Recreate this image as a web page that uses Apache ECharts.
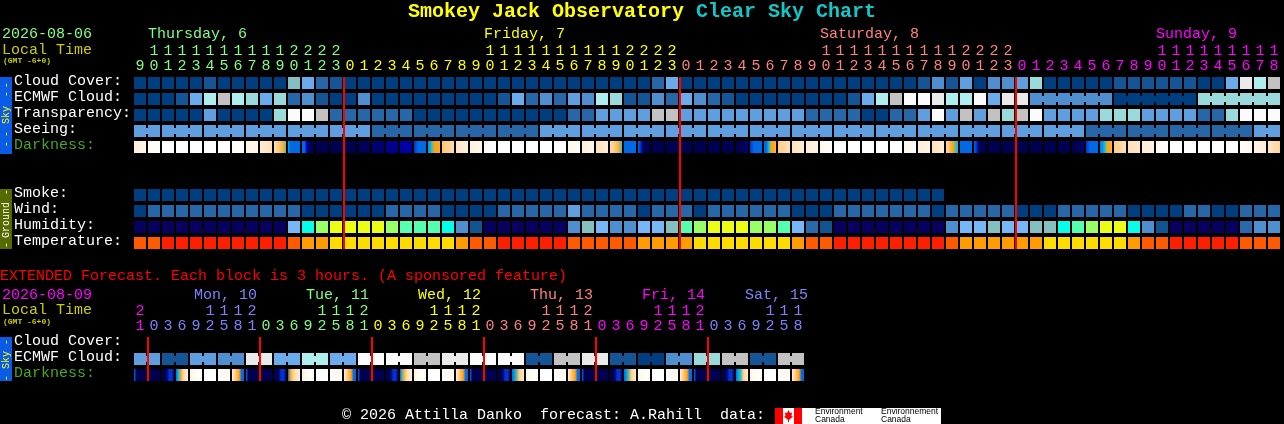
<!DOCTYPE html>
<html><head><meta charset="utf-8">
<script src="https://cdn.jsdelivr.net/npm/echarts@6/dist/echarts.min.js"></script>
<style>html,body{margin:0;padding:0;background:#000;overflow:hidden}#c{width:1284px;height:424px}</style>
</head><body><div id="c"></div>
<script>
// ---------- data ----------
const hours = [9,10,11,12,13,14,15,16,17,18,19,20,21,22,23,
 0,1,2,3,4,5,6,7,8,9,10,11,12,13,14,15,16,17,18,19,20,21,22,23,
 0,1,2,3,4,5,6,7,8,9,10,11,12,13,14,15,16,17,18,19,20,21,22,23,
 0,1,2,3,4,5,6,7,8,9,10,11,12,13,14,15,16,17,18];
const rowNames = ['Cloud Cover:','ECMWF Cloud:','Transparency:','Seeing:','Darkness:',' ','  ','Smoke:','Wind:','Humidity:','Temperature:'];
const cloud = [0,0,0,0,0,1,0,0,0,0, 0,11,5,2,1,0,0,0,0,0, 0,0,0,0,0,0,0,0,0,0, 0,0,0,0,0,0,0,2,5,0, 0,0,0,0,0,0,0,0,0,0, 0,0,0,0,0,0,1,3,1,4, 0,3,3,4,6,0,0,0,0,0, 1,1,1,1,1,1,0,0,5,9, 7,8];
const ecmwf = [0,0,0,1,5,7,8,7,6,5, 6,2,3,1,0,0,3,0,0,0, 0,0,0,0,0,0,1,5,2,3, 2,4,3,7,6,1,1,3,2,5, 3,2,1,0,0,0,0,0,0,0, 0,1,5,7,8,10,10,9,7,7, 10,5,9,9,3,3,3,3,3,3, 0,0,0,0,0,0,6,6,6,6, 6,6];
const ecmwfJoined = [64,65,66,67,68,70,71,72,73,74,76,77,78,79,80];
const transparency = [0,0,0,0,0,4,0,0,0,0, 6,10,10,8,2,2,2,2,2,2, 0,0,0,0,0,0,0,0,0,0, 0,2,2,4,4,4,4,8,8,4, 4,4,4,4,4,4,4,4,2,2, 2,2,0,0,2,2,4,10,4,8, 4,8,6,8,10,4,4,4,4,6, 6,6,4,4,4,4,2,2,6,10, 10,10];
const seeing = [4,4,4,4,4,4,4,4,4,4, 4,4,4,4,4,4,4,2,2,2, 2,2,2,2,2,2,2,2,2,4, 4,4,4,4,4,4,4,4,4,4, 4,4,4,4,4,4,4,4,4,4, 4,4,4,4,4,4,4,4,4,4, 4,4,4,4,4,4,4,4,2,2, 2,2,2,2,2,2,2,2,2,2, 4,4];
const seeingJoined = [0,2,3,5,6,8,9,11,12,14,15,17,18,20,21,23,24,26,27,29,30,32,33,35,36,38,39,41,42,44,45,47,48,50,51,53,54,56,57,59,60,62,63,65,66,68,69,71,72,74,75,77,78,80];
const darkness = [[2,1],[0.6,0],[0],[0],[0],[0],[0],[0.4,0.2],[1.5,1],[2.2,3],[3.2,4,4.6,5.5],
 [6.3,7,7,7,7,7],[7,7,8,9.3,10,10],[10],[10],[10],[9.8],[9],[8.5],[8,8,8,8.4],[7.5,7,7,7],[6.6,6.2,5.4,5,5,4.8],
 [4.2,3.2],[2.6,1.8],[1.6,1],[0.5,0],[0],[0],[0],[0],[0],[1,0.4],[2,1],[3,2],[3.2,4,4.6,5.7],
 [7,7],[7,7.5,9,10,10,10],[10],[10],[10],[10],[10],[10],[10,10,10,9.5,8.5],[7.5,7,7,7],[7,7,6,5,5,4.6],[4,3.5,3],[3,2],[2,1.5],[1,0.3],[0],[0],[0],[0],[0],
 [1,0.5],[2,1.5],[3,2],[3.6,4,4.7,5,5.7,6],[7,7],[7,7.5,9,10,10,10],[10],[10],[10],[10],[10],[10],[10,10,10,9.5,8.5],[7.5,7,7,7],[6.8,6.5,6,5,5,4.6],[4,3.5,3],[3,2.5],[2,1.5],[0.8,0.2],[0],[0],[0],[0],[0],[0.3,1],[1.3,2],[2.6,3.6]];
const smoke = [0,0,0,0,0,0,0,0,0,0, 0,0,0,0,0,0,0,0,0,0, 0,0,0,0,0,0,0,0,0,0, 0,0,0,0,0,0,0,0,0,0, 0,0,0,0,0,0,0,0,0,0, 0,0,0,0,0,0,0,0];
const wind = [0,2,2,2,2,2,2,2,2,2, 2,2,0,0,0,0,0,0,2,2, 2,2,0,0,0,0,2,2,2,2, 2,4,2,2,2,2,0,2,2,2, 0,2,2,2,2,2,2,0,0,0, 2,2,2,2,2,2,2,0,2,2, 2,2,2,0,0,0,2,2,2,2, 2,0,0,0,0,2,2,0,0,2, 2,2];
const humidity = [0,0,0,0,0,0,0,0,0,0, 0,4,6,8,9,9,9,9,8,7, 7,7,6,3,1,0,0,0,0,0, 0,3,5,4,3,3,4,4,5,7, 8,9,9,9,8,8,7,4,2,1, 0,0,0,0,0,0,0,0,3,4, 4,5,4,4,5,5,6,7,8,9, 9,6,3,1,0,0,0,0,0,2, 3,3];
const temperature = [1,1,0,0,0,0,0,0,0,0, 0,1,2,2,3,3,3,3,3,3, 3,3,3,2,1,1,0,0,0,0, 0,1,1,1,1,1,2,2,2,2, 3,3,3,3,3,3,3,2,1,1, 0,0,0,0,0,0,0,0,1,2, 2,2,2,2,2,3,3,3,3,3, 3,2,1,1,0,0,0,0,0,1, 1,1];
const midnights = [15,39,63];

const extHours = [21,0,3,6,9,12,15,18,21,0,3,6,9,12,15,18,21,0,3,6,9,12,15,18,21,0,3,6,9,12,15,18,21,0,3,6,9,12,15,18,21,0,3,6,9,12,15,18];
const extRowNames = ['Cloud Cover:','ECMWF Cloud:','Darkness:'];
const extEcmwf = [4,4,1,1,4,4,3,3,9,9,5,5,7,7,5,5,10,10,10,10,8,8,9,9,10,10,10,10,1,1,8,8,9,9,1,1,0,0,3,3,6,6,8,8,1,1,8,8];
const extJoined = [0,2,4,6,8,10,12,14,16,18,20,22,24,26,28,30,32,34,36,38,40,42,44,46];
const extDarkness = [
 [7,10,10,10,10,10],[10],[10,10,9,7.5,7.5,8.5],[7,6,5,3.5,2.5,2],[1.5,0.5,0],[0],[0,0.5,1],[2,3.5,4.5,5,7,7],
 [7,10,10,10,10,10],[10],[10,10,9,7.5,7.5,8.5],[7,5,4,3,2.5,2],[1.5,0.5,0],[0],[0,0.5,1],[2,3.5,4.5,5,7,7],
 [7,10,10,10,10,10],[10],[10,10,9,7.5,7.5,8.5],[7,5.5,4.5,3,2.5,2],[1.5,0.5,0],[0],[0,0.5,1],[2,3.5,4.5,5,7,7],
 [7,10,10,10,10,10],[10],[10,10,9,7.5,7.5,8.5],[7,6.4,5.5,4,3,2.5],[1,0],[0],[0,0.5,1],[2,3.5,4.5,5,7,7],
 [7,10,10,10,10,10],[10],[10,10,9,7.5,7.5,8.5],[7,6.4,5.5,4,3,2.5],[1,0],[0],[0,0.5,1],[2,3.5,4.5,5,7,7],
 [7,10,10,10,10,10],[10],[10,10,9,7.5,7.5,8.5],[7,6.2,5.8,4,3,2.5],[1,0],[0],[0,0.5,1],[2,3.5,4.5,5,7,7]];
const extMidnights = [1,9,17,25,33,41];

const dayNames = ['Thursday, 6','Friday, 7','Saturday, 8','Sunday, 9'];
const extDayNames = ['Mon, 10','Tue, 11','Wed, 12','Thu, 13','Fri, 14','Sat, 15'];

// ---------- styles ----------
const FONT = '"Liberation Mono"';
const GREEN='#80ff80',YEL='#ffff00',SAL='#ff8080',MAG='#ff00ff',PER='#8080ff',OLV='#cccc00',DG='#44aa22';
const skyPal = ['#003f7f','#155595','#2767a7','#4f8fcf','#5f9fe0','#6babeb','#9adada','#aeeeee','#c2c2c2','#eaeaea','#fbfbfb','#84c0c0'];
const humPal = ['#08005f','#135490','#2a6aaa','#4f8fcf','#77b7f7','#84c0c0','#06ffe8','#55ffb0','#99ff66','#ebff14'];
const tempPal = ['#ff1e00','#ff5a00','#ff9d00','#ffdc00'];
const darkPal = ['#ffffff','#fff7ec','#ffeed8','#ffe0b8','#ffcc84','#ffa414','#00c4e8','#006ae6','#0000a8','#000070','#000050'];
function darkColor(d){
  const a=Math.floor(d), b=Math.min(10,a+1), t=d-a;
  const p=s=>[1,3,5].map(i=>parseInt(s.substr(i,2),16));
  const A=p(darkPal[a]),B=p(darkPal[b]);
  return 'rgb('+A.map((v,i)=>Math.round(v+(B[i]-v)*t)).join(',')+')';
}
function gradient(stops){
  if(stops.length===1) return darkColor(stops[0]);
  return new echarts.graphic.LinearGradient(0,0,1,0,stops.map((d,i)=>({offset:i/(stops.length-1),color:darkColor(d)})));
}
function rowSeries(values,row,fillOf,joined,axis){
  const join=new Set(joined||[]);
  return {type:'custom',coordinateSystem:'cartesian2d',xAxisIndex:axis,yAxisIndex:axis,silent:true,animation:false,clip:false,
    data:values.map((v,i)=>[i,row]),encode:{x:0,y:1},
    renderItem(params,api){
      const i=params.dataIndex,c=api.coord([i,row]),s=api.size([1,1]);
      const w=s[0]-2,h=s[1]-4,x=c[0]-w/2,y=c[1]-h/2,fill=fillOf(values[i]);
      const kids=[{type:'rect',shape:{x,y,width:w,height:h},style:{fill}}];
      if(join.has(i)) kids.push({type:'rect',shape:{x:x+w,y:y+3,width:2,height:h-6},style:{fill}});
      return {type:'group',children:kids};
    }};
}
function lineSeries(cols,rowA,rowB,axis){
  return {type:'custom',coordinateSystem:'cartesian2d',xAxisIndex:axis,yAxisIndex:axis,silent:true,animation:false,clip:false,z:5,
    data:cols.map(c=>[c,rowA]),encode:{x:0,y:1},
    renderItem(params,api){
      const k=cols[params.dataIndex],a=api.coord([k,rowA]),b=api.coord([k,rowB]),s=api.size([1,1]);
      const top=a[1]-(s[1]-4)/2,bot=b[1]+(s[1]-4)/2;
      return {type:'rect',shape:{x:a[0]-s[0]/2,y:top,width:2,height:bot-top},style:{fill:'#ff0000'}};
    }};
}
const sky=v=>skyPal[v],hum=v=>humPal[v],tmp=v=>tempPal[v],drk=v=>gradient(v);
const series=[
  rowSeries(cloud,0,sky,null,0),rowSeries(ecmwf,1,sky,ecmwfJoined,0),rowSeries(transparency,2,sky,null,0),
  rowSeries(seeing,3,sky,seeingJoined,0),rowSeries(darkness,4,drk,null,0),
  rowSeries(smoke,7,sky,null,0),rowSeries(wind,8,sky,null,0),rowSeries(humidity,9,hum,null,0),rowSeries(temperature,10,tmp,null,0),
  lineSeries(midnights,0,10,0),
  rowSeries(extEcmwf,1,sky,extJoined,1),rowSeries(extDarkness,2,drk,null,1),
  lineSeries(extMidnights,0,2,1)
];
const digits=h=>(h>=10?String(h)[0]:' ')+'\n'+(h%10);
function mainColor(v,i){return i<15?GREEN:i<39?YEL:i<63?SAL:MAG;}
function extColor(v,i){return i<1?MAG:i<9?PER:i<17?GREEN:i<25?YEL:i<33?SAL:i<41?MAG:PER;}
const xAxis=(g,data,col)=>({type:'category',gridIndex:g,position:'top',data:data.map(String),
  axisLine:{show:false},axisTick:{show:false},splitLine:{show:false},
  axisLabel:{interval:0,margin:1,hideOverlap:false,fontFamily:FONT,fontSize:15,lineHeight:15,color:col,formatter:v=>digits(+v)}});
const yAxis=(g,data)=>({type:'category',gridIndex:g,inverse:true,data,
  axisLine:{show:false},axisTick:{show:false},splitLine:{show:false},
  axisLabel:{interval:0,align:'left',verticalAlign:'bottom',lineHeight:4,margin:119,fontFamily:FONT,fontSize:15,color:(v)=>v==='Darkness:'?DG:'#ffffff'}});

const T=(x,y,text,fill,size,extra)=>({type:'text',x,y,silent:true,style:Object.assign({text,fill,font:(size||15)+'px '+FONT,textAlign:'left',textVerticalAlign:'middle'},extra||{})});
const R=(x,y,w,h,fill)=>({type:'rect',silent:true,shape:{x,y,width:w,height:h},style:{fill}});
const V=(y,text,fill)=>({type:'text',x:6,y,rotation:Math.PI/2,silent:true,style:{text,fill,font:'10px '+FONT,textAlign:'center',textVerticalAlign:'middle'}});
const dayX=[148,484,820,1156], extDayX=[194,306,418,530,642,745], extDayCol=[PER,GREEN,YEL,SAL,MAG,PER];
const graphics=[
  T(408,12,'Smokey Jack Observatory','#ffff00',20,{font:'bold 20px '+FONT}),
  T(696,12,'Clear Sky Chart','#10c8c8',20,{font:'bold 20px '+FONT}),
  T(2,34,'2026-08-06',GREEN),T(2,50,'Local Time',OLV),T(3,61,'(GMT -6+0)',OLV,8,{font:'bold 8px '+FONT}),
  ...dayNames.map((d,i)=>T(dayX[i],34,d,[GREEN,YEL,SAL,MAG][i])),
  R(0,77,12,77,'#0a5ce6'),V(85,'-',YEL),V(94,'-',YEL),V(115,'Sky',YEL),V(134,'-',YEL),V(144,'-',YEL),
  R(0,189,12,60,'#556b00'),V(192,'-','#fff'),V(220,'Ground','#fff'),V(245,'-','#fff'),
  T(0,276,'EXTENDED Forecast. Each block is 3 hours. (A sponsored feature)','#ff0000'),
  T(2,295,'2026-08-09',MAG),T(2,310,'Local Time',OLV),T(3,322,'(GMT -6+0)',OLV,8,{font:'bold 8px '+FONT}),
  ...extDayNames.map((d,i)=>T(extDayX[i],295,d,extDayCol[i])),
  R(0,337,12,44,'#0a5ce6'),V(342,'-',YEL),V(360,'Sky',YEL),V(378,'-',YEL),
  T(342,415,'\u00a9 2026 Attilla Danko  forecast: A.Rahill  data:','#ffffff'),
  R(775,408,166,16,'#ffffff'),R(775,408,8,16,'#ff0000'),R(794,408,8,16,'#ff0000'),
  {type:'polygon',silent:true,shape:{points:[[788.5,410],[790,413],[792,412.5],[791.5,416],[793,416.5],[789,420],[789,422],[788,422],[788,420],[784,416.5],[785.5,416],[785,412.5],[787,413]]},style:{fill:'#ff0000'}},
  {type:'text',x:815,y:412,silent:true,style:{text:'Environment',fill:'#000',font:'8.5px "Liberation Sans"',textVerticalAlign:'middle'}},
  {type:'text',x:815,y:420,silent:true,style:{text:'Canada',fill:'#000',font:'8.5px "Liberation Sans"',textVerticalAlign:'middle'}},
  {type:'text',x:881,y:412,silent:true,style:{text:'Environnement',fill:'#000',font:'8.5px "Liberation Sans"',textVerticalAlign:'middle'}},
  {type:'text',x:881,y:420,silent:true,style:{text:'Canada',fill:'#000',font:'8.5px "Liberation Sans"',textVerticalAlign:'middle'}}
];
const chart=echarts.init(document.getElementById('c'),null,{renderer:'canvas'});
chart.setOption({
  backgroundColor:'#000',animation:false,
  grid:[{left:133,top:75,width:1148,height:176},{left:133,top:335,width:672,height:48}],
  xAxis:[xAxis(0,hours,mainColor),xAxis(1,extHours,extColor)],
  yAxis:[yAxis(0,rowNames),yAxis(1,extRowNames)],
  series,graphic:{elements:graphics}
});
</script></body></html>
